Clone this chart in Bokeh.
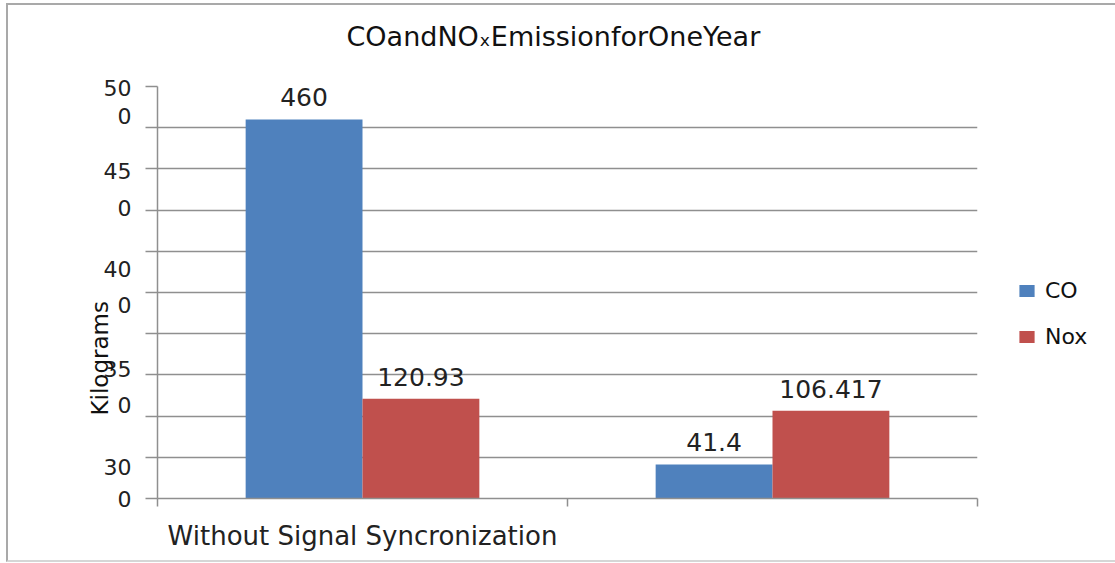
import math
from bokeh.plotting import figure
from bokeh.models import FixedTicker, Range1d, Legend, LegendItem, Title
from bokeh.core.properties import value
from bokeh.embed import file_html
from bokeh.resources import INLINE

# ---- data ----
categories = ["Without Signal Syncronization", " "]
series_names = ["CO", "Nox"]
co_values = [460, 41.4]
nox_values = [120.93, 106.417]
co_labels = ["460", "41.4"]
nox_labels = ["120.93", "106.417"]
grid_values = [0, 50, 100, 150, 200, 250, 300, 350, 400, 450, 500]
y_tick_texts = ["50", "0", "45", "0", "40", "0", "35", "0", "30", "0"]
y_tick_values = [498, 464, 397, 353, 278, 235, 157, 114, 38, 0]

FONT = "DejaVu Sans"
TXT = "#222222"
GRID = "#8f8f8f"
BLUE = "#4F81BD"
RED = "#C0504D"

centers = [i + 0.5 for i in range(len(categories))]
bar_w = 0.285
co_x = [c - bar_w / 2 for c in centers]
nox_x = [c + bar_w / 2 for c in centers]

p = figure(frame_width=820, frame_height=412, output_backend="svg", toolbar_location=None,
           x_range=Range1d(0, len(categories)), y_range=Range1d(0, 500),
           min_border_left=149, min_border_right=120, min_border_top=81, min_border_bottom=62)
p.outline_line_color = None
p.background_fill_color = "white"
p.border_fill_color = "white"
p.styles = {"margin-left": "6px", "margin-top": "3px",
            "border-left": "2px solid #a9a9a9", "border-top": "2px solid #a9a9a9",
            "border-bottom": "2px solid #d6d6d6"}

p.title.text = "COandNO\u2093EmissionforOneYear"
p.title.align = "left"
p.title.offset = 189
p.title.text_font = FONT
p.title.text_font_style = "normal"
p.title.text_font_size = "27px"
p.title.text_color = "#111111"
p.title.standoff = 10

# spacer between title and plot frame
spacer = Title(text=" ", text_font_size="1px", standoff=27)
p.above.insert(0, spacer)

r_co = p.vbar(x=co_x, top=co_values, width=bar_w, bottom=0, fill_color=BLUE, line_color=None)
r_nox = p.vbar(x=nox_x, top=nox_values, width=bar_w, bottom=0, fill_color=RED, line_color=None)

p.text(x=co_x, y=co_values, text=co_labels, text_align="center", text_baseline="alphabetic",
       y_offset=-22, text_font=value(FONT), text_font_size="25px", text_color=TXT)
p.text(x=nox_x, y=nox_values, text=nox_labels, text_align="center", text_baseline="alphabetic",
       y_offset=-22, text_font=value(FONT), text_font_size="25px", text_color=TXT)

# grid
p.xgrid.visible = False
p.ygrid.ticker = FixedTicker(ticks=grid_values)
p.ygrid.grid_line_color = GRID
p.ygrid.grid_line_width = 1.5

# y axis
ya = p.yaxis[0]
ya.ticker = FixedTicker(ticks=y_tick_values, minor_ticks=grid_values)
ya.major_label_overrides = {float(v): t for v, t in zip(y_tick_values, y_tick_texts)}
ya.major_tick_line_color = None
ya.major_tick_out = 12
ya.major_tick_in = 0
ya.minor_tick_line_color = GRID
ya.minor_tick_line_width = 1.5
ya.minor_tick_out = 12
ya.minor_tick_in = 0
ya.axis_line_color = GRID
ya.axis_line_width = 1.5
ya.major_label_standoff = 14
ya.major_label_text_font = FONT
ya.major_label_text_font_size = "22px"
ya.major_label_text_color = TXT

# x axis
xa = p.xaxis[0]
xa.ticker = FixedTicker(ticks=centers, minor_ticks=list(range(len(categories) + 1)))
xa.major_label_overrides = {float(c): t for c, t in zip(centers, categories)}
xa.major_tick_line_color = None
xa.major_tick_out = 8
xa.major_tick_in = 0
xa.minor_tick_line_color = GRID
xa.minor_tick_line_width = 1.5
xa.minor_tick_out = 8
xa.minor_tick_in = 0
xa.axis_line_color = GRID
xa.axis_line_width = 1.5
xa.major_label_standoff = 14
xa.major_label_text_font = FONT
xa.major_label_text_font_size = "26px"
xa.major_label_text_color = TXT

ytitle = Title(text="Kilograms", align="left", offset=83, standoff=-25,
               text_font=FONT, text_font_size="23px", text_font_style="normal",
               text_color="#111111")
p.add_layout(ytitle, "left")

legend = Legend(items=[LegendItem(label=series_names[0], renderers=[r_co]),
                       LegendItem(label=series_names[1], renderers=[r_nox])],
                location="center_left", border_line_color=None, background_fill_alpha=0,
                glyph_width=19, glyph_height=15, label_standoff=9, spacing=20, label_height=26,
                label_text_font=FONT, label_text_font_size="22px", label_text_color="#111111",
                title=" ", title_text_font_size="22px", title_standoff=16,
                margin=40, padding=3)
p.add_layout(legend, "right")

open("out.html", "w").write(file_html(p, INLINE))
